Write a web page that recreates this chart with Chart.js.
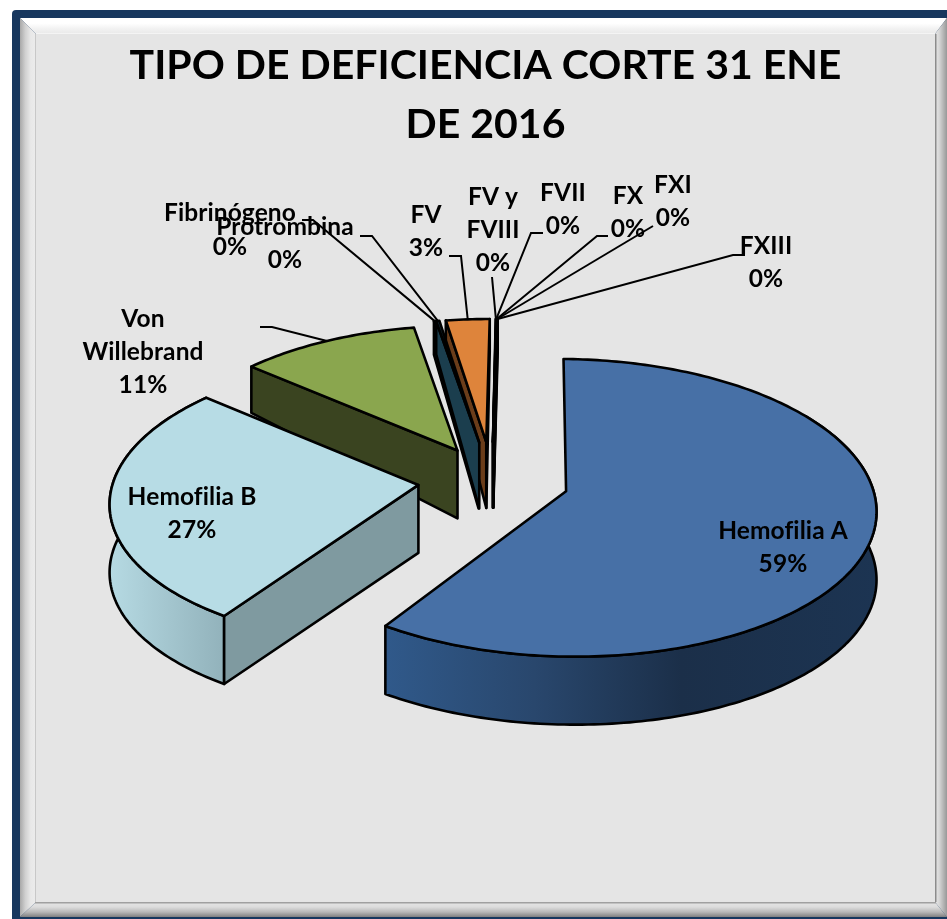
<!DOCTYPE html>
<html><head><meta charset="utf-8">
<style>html,body{margin:0;padding:0;background:#fff}canvas{display:block}</style>
<script src="https://cdn.jsdelivr.net/npm/chart.js@4"></script>
</head><body>
<div style="width:947px;height:919px"><canvas id="c" width="947" height="919"></canvas></div>
<script>
const categories = ['Hemofilia A','Hemofilia B','Von Willebrand','Fibrinógeno','Protrombina','FV','FV y FVIII','FVII','FX','FXI','FXIII'];
const shares = [59.1,26.9,10.9,0.1,0.2,2.7,0.02,0.02,0.02,0.02,0.02];
const explode = [26,25,24,27,27,27,27,27,27,27,27];
const topColors = ['#4770a6','#b7dce5','#8aa64e','#1b3e4e','#1b3e4e','#de843b','#dfeaf0','#dfeaf0','#dfeaf0','#dfeaf0','#dfeaf0'];
const wallColors = ['#2a4a70','#7f9aa0','#3a4420','#1b3e4e','#1b3e4e','#6b3d1a','#e6e6e6','#e6e6e6','#e6e6e6','#e6e6e6','#e6e6e6'];
const titleLines = ['TIPO DE DEFICIENCIA CORTE 31 ENE','DE 2016'];

// layout: label lines / anchor and leader elbows (not data)
const labelLayout = [
 {lines:['Hemofilia A'],x:783,y:531},
 {lines:['Hemofilia B'],x:192,y:497},
 {lines:['Von','Willebrand'],x:143,y:319,leader:[[272,327],[260,327]]},
 {lines:['Fibrinógeno'],x:230,y:213,gap:34,leader:[[313,220],[302,220]]},
 {lines:['Protrombina'],x:285,y:227,leader:[[372,236],[360,236]]},
 {lines:['FV'],x:426,y:215,leader:[[461,256],[449,256]]},
 {lines:['FV y','FVIII'],x:493,y:197,leader:[[492,277]]},
 {lines:['FVII'],x:563,y:193,leader:[[531,233],[543,233]]},
 {lines:['FX'],x:628,y:196,leader:[[597,236],[608,236]]},
 {lines:['FXI'],x:673,y:185,leader:[[653,226]]},
 {lines:['FXIII'],x:766,y:246,leader:[[733,255],[745,255]]}
];
const VIEW = {cx:492, cy:480, a:296, b:144.5, k:0.11};
const radiusX = [1.03,1.03,1.015,1,1,1,1,1,1,1,1];
const radiusY = [1,0.985,1,1,1,1,1,1,1,1,1];
const FONT = 'bold 24.5px Lato';

function project(X,Y,z){
  const w = 1 - VIEW.k*Y;
  const d = z ? Math.min(68, 68 + 33*(Y+0.2)) : 0;
  return [VIEW.cx + VIEW.a*X/w, VIEW.cy + VIEW.b*Y/w + d];
}
function geom(el,i){
  const e = (el.options.offset||0)/100;
  const m = (el.startAngle+el.endAngle)/2;
  return {ax:e*Math.cos(m), ay:e*Math.sin(m), s:el.startAngle, t:el.endAngle, m, Rx:radiusX[i], Ry:radiusY[i]};
}
function rimAt(g,a,z){ return project(g.ax+g.Rx*Math.cos(a), g.ay+g.Ry*Math.sin(a), z); }
function rimPts(g,a0,a1,z){
  const pts=[], n=Math.max(1,Math.ceil(Math.abs(a1-a0)/(Math.PI/180)));
  for(let j=0;j<=n;j++) pts.push(rimAt(g,a0+(a1-a0)*j/n,z));
  return pts;
}
function poly(ctx,pts,fill,lw){
  ctx.beginPath();
  pts.forEach((p,i)=> i?ctx.lineTo(p[0],p[1]):ctx.moveTo(p[0],p[1]));
  ctx.closePath();
  ctx.fillStyle=fill; ctx.fill();
  ctx.lineWidth=lw; ctx.strokeStyle='#000'; ctx.lineJoin='round'; ctx.stroke();
}
function wallFill(ctx,i){
  if(i===0){const g=ctx.createLinearGradient(387,0,877,0);
    g.addColorStop(0,'#30598a');g.addColorStop(.3,'#29476d');g.addColorStop(.6,'#1b2f49');g.addColorStop(1,'#1c3452');return g;}
  if(i===1){const g=ctx.createLinearGradient(112,0,230,0);
    g.addColorStop(0,'#b5d9e2');g.addColorStop(1,'#90b0b9');return g;}
  return wallColors[i];
}
const LW = 2.6;
function drawWalls(ctx,el,i){
  const g=geom(el,i);
  if(i<=1){
    const a0=Math.max(g.s, -Math.PI/2+1.0), a1=g.t;
    poly(ctx,rimPts(g,a0,a1,0).concat(rimPts(g,a0,a1,1).reverse()),wallFill(ctx,i),LW);
  }
  const apexTop=project(g.ax,g.ay,0), apexBot=project(g.ax,g.ay,1);
  const fromTop=a=>a+Math.PI/2;
  if(Math.sin(fromTop(g.s))<0)
    poly(ctx,[apexTop,rimAt(g,g.s,0),rimAt(g,g.s,1),apexBot],wallColors[i],LW);
  if(Math.sin(fromTop(g.t))>0 && i>=5)
    poly(ctx,[apexTop,rimAt(g,g.t,0),rimAt(g,g.t,1),apexBot],wallColors[i],LW);
}
function drawTop(ctx,el,i){
  const g=geom(el,i);
  poly(ctx,[project(g.ax,g.ay,0)].concat(rimPts(g,g.s,g.t,0)),el.options.backgroundColor,LW);
}
const pie3d = {
  id:'pie3d',
  beforeDraw(chart){
    const c=chart.ctx; c.save();
    c.fillStyle='#fff'; c.fillRect(0,0,947,919);
    c.fillStyle='#17375e';
    c.beginPath(); c.roundRect(12,10,960,930,4); c.fill();
    const bevel=(pts,x0,y0,x1,y1,stops)=>{
      const g=c.createLinearGradient(x0,y0,x1,y1);
      stops.forEach((s,i)=>g.addColorStop(i/(stops.length-1),s));
      c.fillStyle=g; c.beginPath();
      pts.forEach((p,i)=>i?c.lineTo(p[0],p[1]):c.moveTo(p[0],p[1]));
      c.closePath(); c.fill();
    };
    bevel([[20,18],[947,18],[935,34],[36,34]],0,18,0,34,['#ffffff','#ffffff','#f2f2f2','#e9e9e9']);
    bevel([[20,18],[36,34],[36,902],[20,917]],20,0,36,0,['#a8a8a8','#d0d0d0','#e8e8e8','#ececec']);
    bevel([[20,917],[36,902],[935,902],[947,917]],0,902,0,917,['#e6e6e6','#dcdcdc','#b8b8b8','#808080']);
    bevel([[947,18],[935,34],[935,902],[947,917]],935,0,947,0,['#e6e6e6','#d8d8d8','#b8b8b8','#989898']);
    c.fillStyle='#e5e5e5'; c.fillRect(36,34,899,868);
    c.fillStyle='#f4f4f4'; c.fillRect(36,33,899,1);
    c.fillStyle='#c8c8c8'; c.fillRect(35,34,1,868);
    c.fillStyle='#8c8c8c'; c.fillRect(935,34,1.5,868);
    c.fillStyle='#a0a0a0'; c.fillRect(35,902,901,1.5);
    c.restore();
  },
  beforeDatasetsDraw(chart){
    const ctx=chart.ctx, els=chart.getDatasetMeta(0).data;
    ctx.save();
    // back to front
    [2].forEach(i=>{drawWalls(ctx,els[i],i);drawTop(ctx,els[i],i);});
    drawWalls(ctx,els[5],5);
    [3,4].forEach(i=>{drawWalls(ctx,els[i],i);drawTop(ctx,els[i],i);});
    drawTop(ctx,els[5],5);
    [10,9,8,7,6,1,0].forEach(i=>{drawWalls(ctx,els[i],i);drawTop(ctx,els[i],i);});
    // leaders
    ctx.strokeStyle='#000'; ctx.lineWidth=2; ctx.lineJoin='miter';
    labelLayout.forEach((l,i)=>{
      if(!l.leader) return;
      const rim=rimAt(geom(els[i],i),geom(els[i],i).m,0);
      ctx.beginPath(); ctx.moveTo(rim[0],rim[1]);
      l.leader.forEach(p=>ctx.lineTo(p[0],p[1])); ctx.stroke();
    });
    // labels
    const total=shares.reduce((a,b)=>a+b,0);
    ctx.fillStyle='#000'; ctx.font=FONT; ctx.textAlign='center'; ctx.textBaseline='middle';
    ctx.letterSpacing='0.1px';
    labelLayout.forEach((l,i)=>{
      const lines=l.lines.concat([Math.round(shares[i]/total*100)+'%']);
      lines.forEach((t,j)=>ctx.fillText(t,l.x,l.y+j*(l.gap||33)));
    });
    ctx.restore();
    return false;
  }
};
new Chart(document.getElementById('c'),{
  type:'pie',
  data:{labels:categories,datasets:[{data:shares,backgroundColor:topColors,offset:explode,borderWidth:0}]},
  plugins:[pie3d],
  options:{
    responsive:false,animation:false,rotation:1,
    layout:{padding:{left:24,top:36,right:0,bottom:0}},
    plugins:{
      legend:{display:false},tooltip:{enabled:false},
      title:{display:true,text:titleLines,color:'#000',font:{family:'Lato',weight:'bold',size:41,lineHeight:1.44},padding:{top:0,bottom:6}}
    }
  }
});
</script>
</body></html>
